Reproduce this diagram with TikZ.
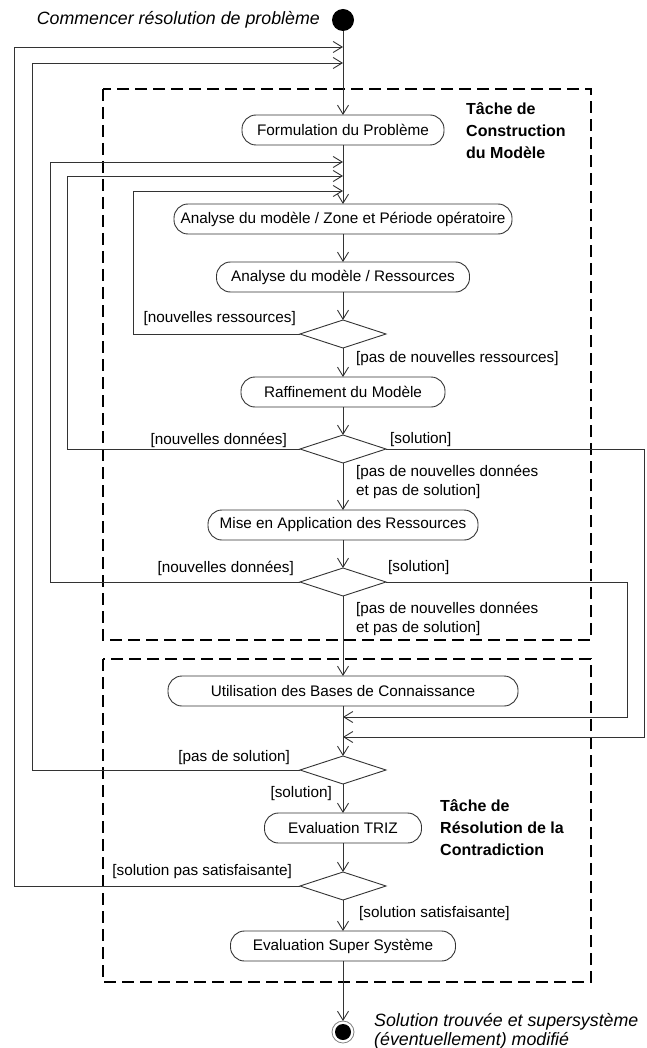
\documentclass[tikz,border=0pt]{standalone}
\usepackage{fontspec}
\setmainfont{Liberation Sans}
\usetikzlibrary{arrows.meta, positioning, shapes.geometric}

\begin{document}
\begin{tikzpicture}[
  x=1pt, y=-1pt,
  node distance=28pt,
  every node/.style={font=\fontsize{15.3}{19}\selectfont},
  act/.style={rectangle, rounded corners=14pt, draw=black!80, line width=0.9pt, minimum height=30pt, inner sep=2pt, outer sep=0pt},
  dec/.style={diamond, draw=black!80, line width=0.9pt, minimum width=86pt, minimum height=28pt, inner sep=0pt, outer sep=0pt},
  guard/.style={inner sep=1pt, align=left},
  task/.style={font=\fontsize{16}{22}\selectfont\bfseries, align=left, inner sep=0pt},
  note/.style={font=\fontsize{17.8}{19}\selectfont\itshape, align=left, inner sep=0pt},
  group/.style={draw, line width=1.4pt, dash pattern=on 12pt off 6pt},
  flow/.style={draw=black!80, line width=0.9pt},
  >={Straight Barb[length=9pt,width=11pt]}
]
\useasboundingbox (0,0) rectangle (646,1048);

% regions
\draw[group] (103,89) rectangle (591,640);
\draw[group] (103,659) rectangle (591,982);
\node[task, anchor=west] (taskA) at (466,131) {Tâche de\\Construction\\du Modèle};
\node[task, anchor=west] (taskB) at (440,828) {Tâche de\\Résolution de la\\Contradiction};

% main flow
\node[circle, fill=black, minimum size=22pt, inner sep=0pt, outer sep=0pt] (start) at (343,20) {};
\node[note, left=12pt of start] (startlbl) {Commencer résolution de problème};
\node[act, minimum width=202pt, below=84pt of start] (formu) {Formulation du Problème};
\node[act, minimum width=338pt, below=59pt of formu] (zone) {Analyse du modèle / Zone et Période opératoire};
\node[act, minimum width=253pt, below=of zone] (ressrc) {Analyse du modèle / Ressources};
\node[dec, below=of ressrc] (dres) {};
\node[act, minimum width=204pt, below=29pt of dres] (raff) {Raffinement du Modèle};
\node[dec, below=of raff] (ddon1) {};
\node[act, minimum width=270pt, below=47pt of ddon1] (mise) {Mise en Application des Ressources};
\node[dec, below=of mise] (ddon2) {};
\node[act, minimum width=350pt, below=80pt of ddon2] (bases) {Utilisation des Bases de Connaissance};
\node[dec, below=50pt of bases] (dsol) {};
\node[act, minimum width=157pt, below=29pt of dsol] (triz) {Evaluation TRIZ};
\node[dec, below=29pt of triz] (dsat) {};
\node[act, minimum width=225pt, below=31pt of dsat] (supsys) {Evaluation Super Système};
\node[circle, draw=black!50, line width=0.8pt, minimum size=22pt, inner sep=0pt, outer sep=0pt, below=60pt of supsys,
  path picture={\fill (path picture bounding box.center) circle (8pt);}] (stop) {};
\node[note, anchor=west] (stoplbl) at ([xshift=20pt, yshift=1pt]stop.east) {Solution trouvée et supersystème\\(éventuellement) modifié};

% guards
\node[guard, anchor=east] (gnr) at (297,319) {[nouvelles ressources]};
\node[guard, anchor=west] (gpnr) at (355,359) {[pas de nouvelles ressources]};
\node[guard, anchor=east] (gnd1) at (288,440) {[nouvelles données]};
\node[guard, anchor=west] (gs1) at (389,440) {[solution]};
\node[guard, anchor=west] (gpnd1) at (355,482) {[pas de nouvelles données\\et pas de solution]};
\node[guard, anchor=east] (gnd2) at (295,568) {[nouvelles données]};
\node[guard, anchor=west] (gs2) at (387,568) {[solution]};
\node[guard, anchor=west] (gpnd2) at (355,619) {[pas de nouvelles données\\et pas de solution]};
\node[guard, anchor=east] (gps) at (291,758) {[pas de solution]};
\node[guard, anchor=east] (gs3) at (333,794) {[solution]};
\node[guard, anchor=east] (gsps) at (293,872) {[solution pas satisfaisante]};
\node[guard, anchor=west] (gss) at (358,914) {[solution satisfaisante]};

% merge points on the flow
\coordinate (mA) at (343,47);
\coordinate (mB) at (343,63);
\coordinate (mC) at (343,162);
\coordinate (mD) at (343,176);
\coordinate (mE) at (343,191);
\coordinate (mF) at (343,717);
\coordinate (mG) at (343,737);

\draw[->, flow] (start) -- (formu);
\draw[->, flow] (formu) -- (zone);
\draw[->, flow] (zone) -- (ressrc);
\draw[->, flow] (ressrc) -- (dres);
\draw[->, flow] (dres) -- (raff);
\draw[->, flow] (raff) -- (ddon1);
\draw[->, flow] (ddon1) -- (mise);
\draw[->, flow] (mise) -- (ddon2);
\draw[->, flow] (ddon2) -- (bases);
\draw[->, flow] (bases) -- (dsol);
\draw[->, flow] (dsol) -- (triz);
\draw[->, flow] (triz) -- (dsat);
\draw[->, flow] (dsat) -- (supsys);
\draw[->, flow] (supsys) -- (stop);

% loops back
\draw[->, flow] (dres.west) -- ++(-167,0) |- (mE);
\draw[->, flow] (ddon1.west) -- ++(-233,0) |- (mD);
\draw[->, flow] (ddon2.west) -- ++(-250,0) |- (mC);
\draw[->, flow] (dsol.west) -- ++(-268,0) |- (mB);
\draw[->, flow] (dsat.west) -- ++(-286,0) |- (mA);
\draw[->, flow] (ddon1.east) -- ++(258,0) |- (mG);
\draw[->, flow] (ddon2.east) -- ++(241,0) |- (mF);
\end{tikzpicture}
\end{document}
